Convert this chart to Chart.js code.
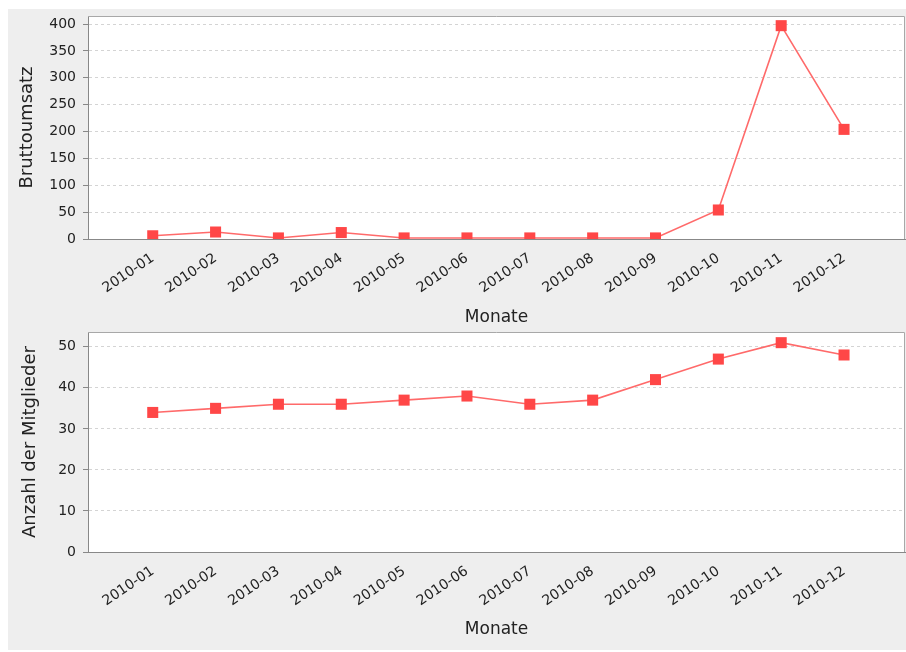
<!DOCTYPE html>
<html>
<head>
<meta charset="utf-8">
<script src="https://cdn.jsdelivr.net/npm/chart.js@4"></script>
<style>
  html, body { margin: 0; padding: 0; background: #ffffff; }
  body { width: 906px; height: 652px; position: relative; overflow: hidden; }
  #panel { position: absolute; left: 8px; top: 9px; width: 898px; height: 641px; background: #eeeeee; }
  .wrap { position: absolute; left: 0; width: 906px; }
  #w1 { top: 0; height: 330px; }
  #w2 { top: 330px; height: 322px; }
</style>
</head>
<body>
<div id="panel"></div>
<div class="wrap" id="w1"><canvas id="c1"></canvas></div>
<div class="wrap" id="w2"><canvas id="c2"></canvas></div>
<script>
const months = ['2010-01','2010-02','2010-03','2010-04','2010-05','2010-06','2010-07','2010-08','2010-09','2010-10','2010-11','2010-12'];
const bruttoumsatz = [6, 13, 2, 12, 2, 2, 2, 2, 2, 54, 397, 204];
const mitglieder = [34, 35, 36, 36, 37, 38, 36, 37, 42, 47, 51, 48];
const ticksTop = [0, 50, 100, 150, 200, 250, 300, 350, 400];
const ticksBottom = [0, 10, 20, 30, 40, 50];
const xTitle = 'Monate';
const yTitleTop = 'Bruttoumsatz';
const yTitleBottom = 'Anzahl der Mitglieder';

const FONT = 'DejaVu Sans';
const plotBg = {
  id: 'plotBg',
  beforeDraw(chart) {
    const a = chart.chartArea, ctx = chart.ctx;
    ctx.save();
    ctx.fillStyle = '#ffffff';
    ctx.fillRect(a.left, a.top, a.right - a.left, a.bottom - a.top);
    ctx.restore();
  },
  afterDraw(chart) {
    const a = chart.chartArea, ctx = chart.ctx;
    ctx.save();
    ctx.strokeStyle = '#a8a8a8';
    ctx.lineWidth = 1;
    ctx.beginPath();
    ctx.moveTo(a.left, a.top + 0.5);
    ctx.lineTo(a.right - 0.5, a.top + 0.5);
    ctx.lineTo(a.right - 0.5, a.bottom);
    ctx.stroke();
    ctx.restore();
  }
};

function makeChart(id, values, yTicks, yMax, yTitle, padTop, xHeight, titleYPad, yTitlePad) {
  const pts = values.map((v, i) => ({ x: i, y: v }));
  return new Chart(document.getElementById(id), {
    type: 'line',
    data: {
      datasets: [{
        data: pts,
        borderColor: '#ff6a6a',
        borderWidth: 1.6,
        backgroundColor: '#ff4747',
        pointStyle: 'rect',
        pointRadius: 7.8,
        pointBorderWidth: 0,
        pointBackgroundColor: '#ff4747',
        tension: 0,
        fill: false
      }]
    },
    options: {
      responsive: true,
      maintainAspectRatio: false,
      animation: false,
      events: [],
      layout: { autoPadding: false, padding: { top: padTop, right: 1, left: 0, bottom: 0 } },
      plugins: { legend: { display: false }, tooltip: { enabled: false } },
      scales: {
        x: {
          type: 'linear',
          min: -1.03,
          max: 11.97,
          afterBuildTicks(s) { s.ticks = months.map((m, i) => ({ value: i })); },
          afterFit(s) { s.height = xHeight; s.paddingLeft = 0; s.paddingRight = 0; },
          grid: { display: false },
          border: { display: true, color: '#888888', width: 1 },
          ticks: {
            autoSkip: false,
            maxRotation: 34,
            minRotation: 34,
            padding: 3,
            color: '#222222',
            font: { family: FONT, size: 14 },
            callback: (v) => months[v]
          },
          title: {
            display: true,
            text: xTitle,
            color: '#222222',
            font: { family: FONT, size: 17 },
            padding: { top: 0, bottom: titleYPad }
          }
        },
        y: {
          min: 0,
          max: yMax,
          afterBuildTicks(s) { s.ticks = yTicks.map(v => ({ value: v })); },
          afterFit(s) { s.width = 88; s.paddingTop = 0; s.paddingBottom = 0; },
          grid: {
            color: '#d4d4d4',
            lineWidth: 1,
            drawTicks: true,
            tickLength: 5,
            tickColor: '#888888',
            tickBorderDash: []
          },
          border: { display: true, color: '#888888', width: 1, dash: [3, 3] },
          ticks: {
            padding: 7,
            color: '#222222',
            font: { family: FONT, size: 14 }
          },
          title: {
            display: true,
            text: yTitle,
            color: '#222222',
            font: { family: FONT, size: 18 },
            padding: { top: yTitlePad, bottom: 0 }
          }
        }
      }
    },
    plugins: [plotBg]
  });
}

makeChart('c1', bruttoumsatz, ticksTop, 415, yTitleTop, 16, 91, 2, 17);
makeChart('c2', mitglieder, ticksBottom, 53.6, yTitleBottom, 2, 100, 12, 20);
</script>
</body>
</html>
